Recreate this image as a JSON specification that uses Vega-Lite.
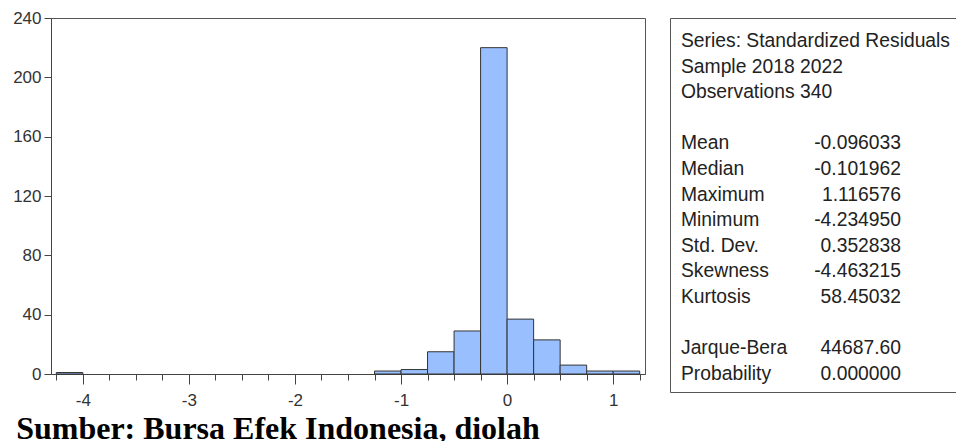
{
  "$schema": "https://vega.github.io/schema/vega-lite/v6.json",
  "background": "white",
  "padding": {"left": 12, "top": 8, "right": 0, "bottom": 0},
  "bounds": "flush",
  "spacing": 25,
  "title": {
    "text": "Sumber: Bursa Efek Indonesia, diolah",
    "orient": "bottom",
    "anchor": "start",
    "frame": "bounds",
    "font": "Liberation Serif",
    "fontSize": 32,
    "fontWeight": "bold",
    "color": "black",
    "offset": 5,
    "dx": 4
  },
  "config": {
    "view": {"stroke": "#555", "strokeWidth": 1},
    "font": "Liberation Sans"
  },
  "hconcat": [
    {
      "width": 594,
      "height": 356,
      "data": {
        "values": [
          {"bin_start": -4.25, "bin_end": -4.0, "count": 1},
          {"bin_start": -1.25, "bin_end": -1.0, "count": 2},
          {"bin_start": -1.0, "bin_end": -0.75, "count": 3},
          {"bin_start": -0.75, "bin_end": -0.5, "count": 15},
          {"bin_start": -0.5, "bin_end": -0.25, "count": 29},
          {"bin_start": -0.25, "bin_end": 0.0, "count": 220},
          {"bin_start": 0.0, "bin_end": 0.25, "count": 37},
          {"bin_start": 0.25, "bin_end": 0.5, "count": 23},
          {"bin_start": 0.5, "bin_end": 0.75, "count": 6},
          {"bin_start": 0.75, "bin_end": 1.0, "count": 2},
          {"bin_start": 1.0, "bin_end": 1.25, "count": 2}
        ]
      },
      "encoding": {
        "x2": {"field": "bin_end"},
        "y": {
          "field": "count",
          "type": "quantitative",
          "scale": {"domain": [0, 240], "nice": false},
          "axis": {
            "title": null,
            "grid": false,
            "values": [0, 40, 80, 120, 160, 200, 240],
            "tickSize": 7,
            "labelPadding": 3,
            "labelFontSize": 17,
            "labelColor": "#333",
            "domainColor": "#444",
            "tickColor": "#444"
          }
        },
        "y2": {"datum": 0}
      },
      "layer": [
        {
          "mark": {"type": "bar", "fillOpacity": 0, "strokeOpacity": 0},
          "encoding": {
            "x": {
              "field": "bin_start",
              "type": "quantitative",
              "scale": {"domain": [-4.3, 1.3], "nice": false, "zero": false},
              "axis": {
                "orient": "bottom",
                "title": null,
                "grid": false,
                "values": [-4.25, -4, -3.75, -3.5, -3.25, -3, -2.75, -2.5, -2.25, -2, -1.75, -1.5, -1.25, -1, -0.75, -0.5, -0.25, 0, 0.25, 0.5, 0.75, 1, 1.25],
                "tickSize": 6,
                "labels": false,
                "domainColor": "#444",
                "tickColor": "#444"
              }
            }
          }
        },
        {
          "mark": {"type": "bar", "fill": "#99BFFF", "stroke": "#333", "strokeWidth": 1},
          "encoding": {
            "x": {
              "field": "bin_start",
              "type": "quantitative",
              "scale": {"domain": [-4.3, 1.3], "nice": false, "zero": false},
              "axis": {
                "orient": "bottom",
                "title": null,
                "grid": false,
                "values": [-4, -3, -2, -1, 0, 1],
                "tickSize": 10,
                "labelExpr": "'' + datum.value",
                "labelFontSize": 17,
                "labelColor": "#333",
                "labelPadding": 8,
                "labelFlush": false,
                "labelOverlap": false,
                "domain": false,
                "tickColor": "#444"
              }
            }
          }
        }
      ],
      "resolve": {"axis": {"x": "independent"}}
    },
    {
      "width": 300,
      "height": 374,
      "data": {
        "values": [
          {"line": 0, "label": "Series: Standardized Residuals", "value": ""},
          {"line": 1, "label": "Sample 2018 2022", "value": ""},
          {"line": 2, "label": "Observations 340", "value": ""},
          {"line": 4, "label": "Mean", "value": "-0.096033"},
          {"line": 5, "label": "Median", "value": "-0.101962"},
          {"line": 6, "label": "Maximum", "value": "1.116576"},
          {"line": 7, "label": "Minimum", "value": "-4.234950"},
          {"line": 8, "label": "Std. Dev.", "value": "0.352838"},
          {"line": 9, "label": "Skewness", "value": "-4.463215"},
          {"line": 10, "label": "Kurtosis", "value": "58.45032"},
          {"line": 12, "label": "Jarque-Bera", "value": "44687.60"},
          {"line": 13, "label": "Probability", "value": "0.000000"}
        ]
      },
      "encoding": {
        "y": {
          "field": "line",
          "type": "quantitative",
          "scale": {"domain": [-0.9, 13.71], "reverse": true, "nice": false, "zero": false},
          "axis": null
        }
      },
      "layer": [
        {
          "mark": {"type": "text", "align": "left", "baseline": "middle", "dx": -139, "fontSize": 19.3, "color": "#222"},
          "encoding": {"text": {"field": "label"}}
        },
        {
          "mark": {"type": "text", "align": "right", "baseline": "middle", "dx": 81, "fontSize": 19.3, "color": "#222"},
          "encoding": {"text": {"field": "value"}}
        }
      ]
    }
  ]
}
